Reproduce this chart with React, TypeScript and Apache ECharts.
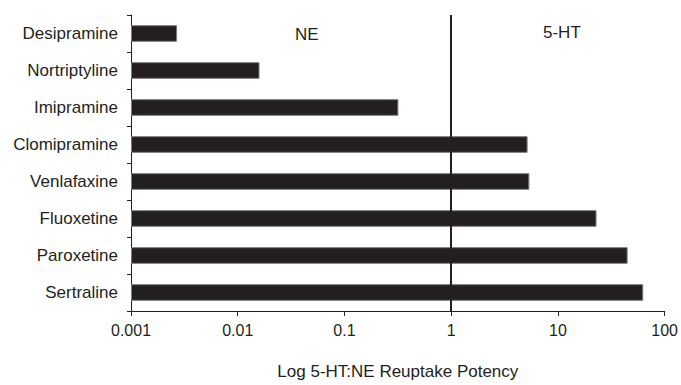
import React, { useEffect, useRef } from "react";
import * as echarts from "echarts";

const categories = [
  "Desipramine",
  "Nortriptyline",
  "Imipramine",
  "Clomipramine",
  "Venlafaxine",
  "Fluoxetine",
  "Paroxetine",
  "Sertraline",
];
// 5-HT:NE reuptake potency ratio
const ratios = [0.0027, 0.016, 0.32, 5.2, 5.4, 23, 45, 63];
const axisMinRatio = 0.001;
const tickDecades = [0, 1, 2, 3, 4, 5];
const dividerRatio = 1;

const FONT = "'Liberation Sans', Arial, Helvetica, sans-serif";
const INK = "#231f20";

export default function App() {
  const ref = useRef<HTMLDivElement>(null);
  useEffect(() => {
    document.body.style.margin = "0";
    if (!ref.current) return;
    const chart = echarts.init(ref.current, undefined, { renderer: "svg" });
    const toDecade = (v: number) => Math.log10(v / axisMinRatio);
    chart.setOption({
      animation: false,
      textStyle: { fontFamily: FONT, color: INK },
      grid: { left: 131, right: 15, top: 15, bottom: 67, containLabel: false },
      xAxis: {
        type: "value",
        min: tickDecades[0],
        max: tickDecades[tickDecades.length - 1],
        interval: 1,
        name: "Log 5-HT:NE Reuptake Potency",
        nameLocation: "middle",
        nameGap: 52,
        nameTextStyle: { fontSize: 17, color: INK, fontFamily: FONT, verticalAlign: "top" },
        axisLine: { show: true, lineStyle: { color: INK, width: 1 } },
        axisTick: { show: true, length: 5, lineStyle: { color: INK, width: 1 } },
        splitLine: { show: false },
        axisLabel: {
          fontSize: 16,
          color: INK,
          fontFamily: FONT,
          margin: 11,
          formatter: (v: number) =>
            String(Number((axisMinRatio * Math.pow(10, v)).toPrecision(1))),
        },
      },
      yAxis: {
        type: "category",
        inverse: true,
        data: categories,
        axisLine: { show: true, lineStyle: { color: INK, width: 1 } },
        axisTick: { show: true, length: 4, lineStyle: { color: INK, width: 1 } },
        axisLabel: { fontSize: 17, color: INK, fontFamily: FONT, margin: 13 },
        splitLine: { show: false },
      },
      series: [
        {
          type: "bar",
          data: ratios.map(toDecade),
          barWidth: "45%",
          itemStyle: { color: INK, borderColor: "#7a7a7a", borderWidth: 1 },
          markLine: {
            silent: true,
            symbol: ["none", "none"],
            label: { show: false },
            lineStyle: { color: INK, width: 2, type: "solid" },
            data: [{ xAxis: toDecade(dividerRatio) }],
          },
        },
      ],
      graphic: [
        {
          type: "text",
          left: 295,
          top: 26,
          style: { text: "NE", fontSize: 17, fill: INK, fontFamily: FONT },
        },
        {
          type: "text",
          left: 543,
          top: 24,
          style: { text: "5-HT", fontSize: 17, fill: INK, fontFamily: FONT },
        },
      ],
    });
    return () => chart.dispose();
  }, []);
  return <div ref={ref} style={{ width: 681, height: 385 }} />;
}
